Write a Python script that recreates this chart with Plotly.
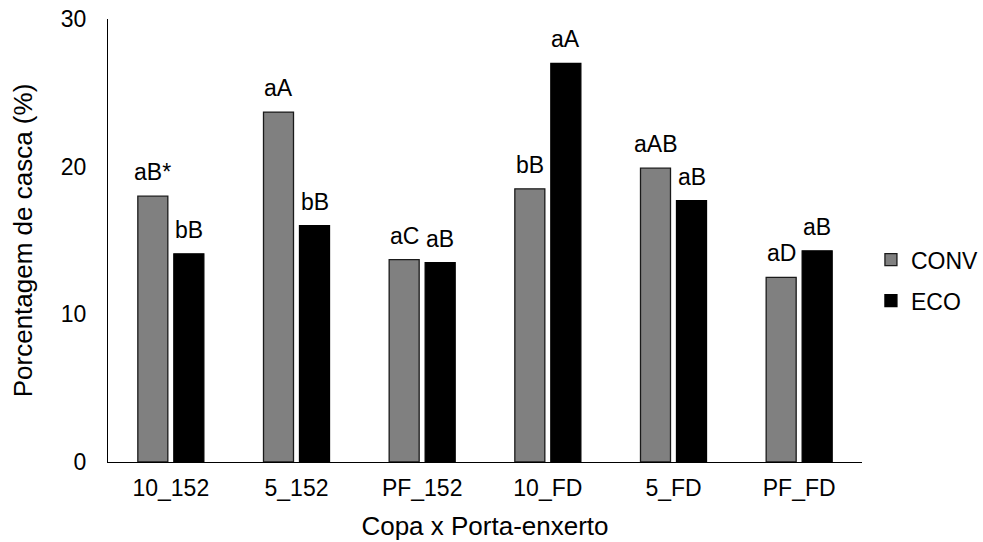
import plotly.graph_objects as go

categories = ["10_152", "5_152", "PF_152", "10_FD", "5_FD", "PF_FD"]
conv_values = [18.0, 23.7, 13.7, 18.5, 19.9, 12.5]
eco_values = [14.1, 16.0, 13.5, 27.0, 17.7, 14.3]
conv_labels = ["aB*", "aA", "aC", "bB", "aAB", "aD"]
eco_labels = ["bB", "bB", "aB", "aA", "aB", "aB"]

FONT = "Liberation Sans, Arial, sans-serif"

fig = go.Figure()
fig.add_trace(go.Bar(
    name="CONV", x=categories, y=conv_values,
    marker=dict(color="#808080", line=dict(color="#1a1a1a", width=1.3)),
    legendgroup="a",
))
fig.add_trace(go.Bar(
    name="ECO", x=categories, y=eco_values,
    marker=dict(color="#000000", line=dict(color="#000000", width=1.3)),
    legendgroup="b",
))

annotations = []
for cat, v, lab in zip(categories, conv_values, conv_labels):
    annotations.append(dict(x=cat, y=v, text=lab, xshift=-18, yshift=9,
                            showarrow=False, yanchor="bottom",
                            font=dict(size=23, color="black", family=FONT)))
for cat, v, lab in zip(categories, eco_values, eco_labels):
    annotations.append(dict(x=cat, y=v, text=lab, xshift=18, yshift=9,
                            showarrow=False, yanchor="bottom",
                            font=dict(size=23, color="black", family=FONT)))

fig.update_layout(
    width=983, height=542,
    margin=dict(l=108, r=121, t=19, b=80),
    plot_bgcolor="white", paper_bgcolor="white",
    font=dict(family=FONT, size=23, color="black"),
    barmode="group", bargap=0.427, bargroupgap=0.1667,
    annotations=annotations,
    legend=dict(xref="container", yref="container",
                x=0.886, xanchor="left", y=0.483, yanchor="middle",
                font=dict(size=23), tracegroupgap=8,
                bgcolor="rgba(0,0,0,0)"),
    xaxis=dict(
        automargin=False,
        showline=True, linecolor="black", linewidth=1.3,
        ticks="", showgrid=False,
        ticklabelstandoff=5,
        title=dict(text="Copa x Porta-enxerto", font=dict(size=26), standoff=17),
        tickfont=dict(size=23),
    ),
    yaxis=dict(
        automargin=False,
        range=[0, 30], tickvals=[0, 10, 20, 30],
        showline=True, linecolor="black", linewidth=1.3,
        ticks="", showgrid=False, zeroline=False,
        ticklabelstandoff=16,
        title=dict(text="Porcentagem de casca (%)", font=dict(size=26), standoff=20),
        tickfont=dict(size=23),
    ),
)

fig.write_html("out.html", config={"displayModeBar": False},
               post_script="document.body.style.margin='0';")
